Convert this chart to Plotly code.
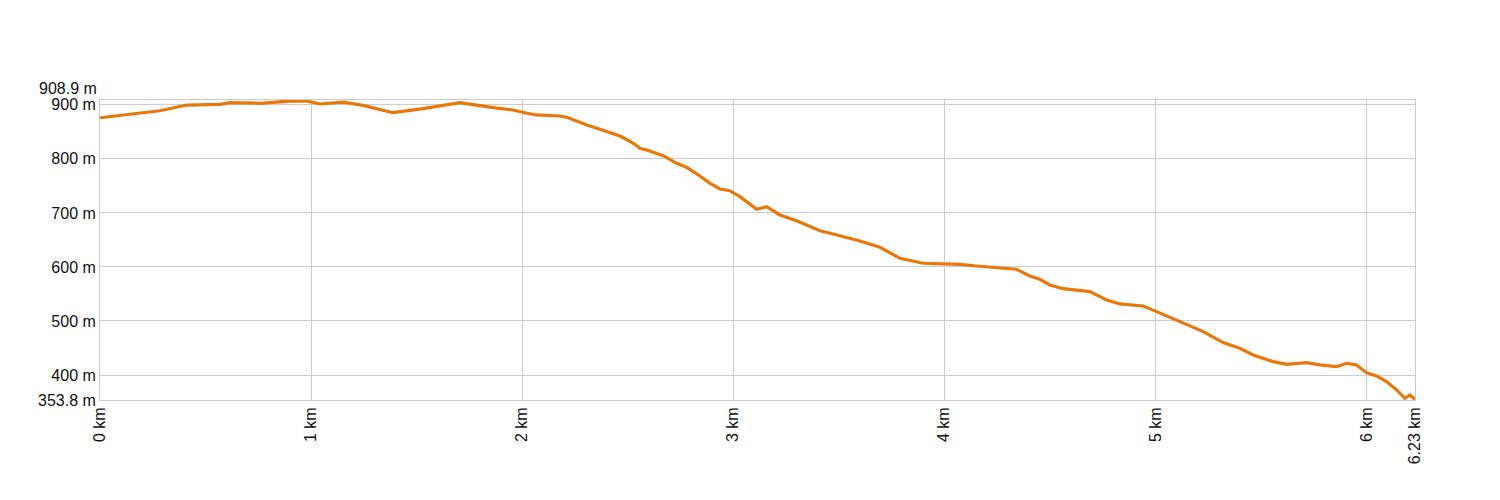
import plotly.graph_objects as go

# distance (km) and elevation (m)
dist_km = [0.000, 0.189, 0.284, 0.411, 0.569, 0.616, 0.758, 0.900, 0.979, 1.042, 1.151, 1.246, 1.388,
           1.530, 1.705, 1.880, 1.956, 2.023, 2.068, 2.178, 2.212, 2.307, 2.369, 2.416, 2.464, 2.527,
           2.558, 2.590, 2.668, 2.732, 2.779, 2.842, 2.890, 2.937, 2.984, 3.032, 3.111, 3.158, 3.221,
           3.300, 3.411, 3.474, 3.600, 3.695, 3.790, 3.900, 3.994, 4.074, 4.153, 4.263, 4.342, 4.405,
           4.453, 4.500, 4.563, 4.690, 4.769, 4.832, 4.942, 5.006, 5.132, 5.227, 5.321, 5.400, 5.463,
           5.558, 5.622, 5.716, 5.779, 5.858, 5.906, 5.953, 6.000, 6.048, 6.095, 6.143, 6.182, 6.206, 6.230]
elev_m = [876.0, 885.4, 889.0, 899.6, 900.9, 903.9, 902.8, 907.0, 907.0, 901.5, 905.0, 899.0, 885.4,
          892.8, 903.9, 894.0, 890.4, 884.3, 881.2, 879.3, 876.9, 862.6, 854.7, 847.3, 842.3, 828.8,
          819.5, 816.4, 805.9, 791.8, 784.4, 768.3, 754.8, 744.2, 741.1, 730.0, 706.7, 711.6, 696.2,
          685.6, 667.1, 661.0, 648.0, 636.4, 616.0, 606.8, 605.0, 604.9, 601.8, 598.7, 595.7, 583.3,
          577.1, 566.6, 559.8, 554.3, 538.9, 531.5, 527.8, 517.3, 495.8, 480.4, 460.0, 449.6, 437.2,
          424.8, 419.9, 422.9, 418.7, 415.5, 421.7, 418.7, 404.4, 398.3, 387.8, 372.4, 357.0, 363.1, 355.1]

y_min, y_max = 353.8, 908.9
x_max = 6.23
y_ticks = [353.8, 400, 500, 600, 700, 800, 900]
y_labels = ["353.8 m", "400 m", "500 m", "600 m", "700 m", "800 m", "900 m"]
x_ticks = [0, 1, 2, 3, 4, 5, 6, 6.23]
x_labels = ["0 km", "1 km", "2 km", "3 km", "4 km", "5 km", "6 km", "6.23 km"]

FONT = "Liberation Sans, Arial, sans-serif"

fig = go.Figure()
fig.add_trace(go.Scatter(x=dist_km, y=elev_m, mode="lines",
                         line=dict(color="#E8780A", width=3.2), hoverinfo="skip"))

grid = "#CCCCCC"
fig.update_layout(
    width=1500, height=500,
    margin=dict(l=92, r=93, t=92, b=108, autoexpand=False),
    plot_bgcolor="white", paper_bgcolor="white",
    showlegend=False,
    font=dict(family=FONT, size=16, color="#111111"),
    xaxis=dict(range=[0, x_max], tickvals=x_ticks, ticktext=x_labels, tickangle=-90,
               showgrid=True, gridcolor=grid, gridwidth=1, zeroline=False,
               showline=True, linecolor=grid, linewidth=1, mirror=True, ticks=""),
    yaxis=dict(range=[y_min, y_max], tickvals=y_ticks, ticktext=y_labels,
               showgrid=True, gridcolor=grid, gridwidth=1, zeroline=False,
               showline=True, linecolor=grid, linewidth=1, mirror=True, ticks=""),
)
fig.add_annotation(x=0, xref="paper", y=y_max, yref="y", text="908.9 m", showarrow=False,
                   xanchor="right", yanchor="middle", xshift=-1, yshift=12,
                   font=dict(family=FONT, size=16, color="#111111"))

fig.write_html("out.html")
